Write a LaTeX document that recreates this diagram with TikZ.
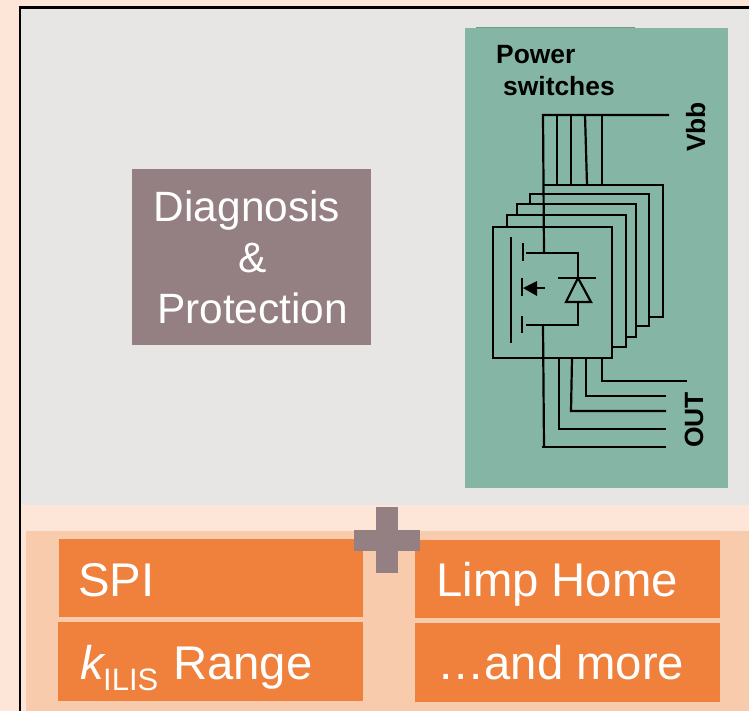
\documentclass[tikz,border=0pt]{standalone}
\usepackage{fontspec}
\setmainfont{Liberation Sans}
\definecolor{pagebg}{HTML}{FDE6D8}
\definecolor{panelbg}{HTML}{F8CBAD}
\definecolor{orangebox}{HTML}{EF813C}
\definecolor{greybg}{HTML}{E7E6E4}
\definecolor{tealbg}{HTML}{84B5A5}
\definecolor{mauve}{HTML}{948083}
\tikzset{
  wire/.style={draw=black,line width=2.2pt,line join=miter},
  bigtext/.style={text=white,inner sep=0pt,anchor=base west,font=\fontsize{47.3}{47}\selectfont},
  smallbold/.style={text=black,inner sep=0pt,anchor=base west,font=\bfseries\fontsize{26.4}{26}\selectfont},
}
\begin{document}
\begin{tikzpicture}[x=1pt,y=-1pt]
\useasboundingbox (0,0) rectangle (749,711);
\fill[pagebg] (0,0) rectangle (749,711);
\fill[greybg] (20,8) rectangle (749,505);
\fill[panelbg] (26,531) rectangle (749,711);
\draw[black,line width=2.4pt] (20,711) -- (20,7.5) -- (749,7.5);
% teal panel
\fill[tealbg] (465,28) rectangle (728,488);
\fill[tealbg!85!black] (476,27) rectangle (635,28);
% orange boxes
\fill[orangebox] (59,539) rectangle (363,617);
\fill[orangebox] (58,622) rectangle (363,701);
\fill[orangebox] (415,540) rectangle (720,618);
\fill[orangebox] (415,623) rectangle (720,702);
% plus
\fill[mauve] (376,507) rectangle (397.5,573);
\fill[mauve] (354,530) rectangle (420,551);
% diagnosis
\fill[mauve] (132,169) rectangle (371,345);
\node[text=white,inner sep=0pt,align=center,font=\fontsize{42.4}{51}\selectfont] (diag) at (252.5,257)
  {Diagnosis\hspace*{11pt}\\\&\\Protection};
% labels
\node[bigtext] (spi) at (78,596) {SPI};
\node[bigtext] (limp) at (436,596) {Limp Home};
\node[bigtext] (more) at (437,679) {…and more};
\node[bigtext] (kilis) at (80,679) {\textit{k}};
\node[text=white,inner sep=0pt,anchor=base west,font=\fontsize{31}{31}\selectfont] (sub) at (103,690) {ILIS};
\node[bigtext] (range) at (173,679) {Range};
\node[smallbold] (power) at (496,64) {Power};
\node[smallbold] (switches) at (503,96) {switches};
\node[smallbold,rotate=90] (vbb) at (705,152) {Vbb};
\node[smallbold,rotate=90] (out) at (703,448) {OUT};
% supply wires
\draw[wire] (669,115) -- (543,115) -- (544,253);
\draw[wire] (557,115) -- (557,185);
\draw[wire] (571,115) -- (571,185);
\draw[wire] (585,115) -- (587,185);
\draw[wire] (602,115) -- (602,185);
% stacked frames, rear to front
\draw[wire] (544,185) -- (663,185) -- (663,317) -- (649,317);
\draw[wire] (530,204) -- (530,194) -- (649,194) -- (649,326) -- (636,326);
\draw[wire] (517,215) -- (517,204) -- (636,204) -- (636,337) -- (626,337);
\draw[wire] (507,227) -- (507,215) -- (626,215) -- (626,347) -- (612,347);
\draw[wire] (493,227) rectangle (612,358);
% transistor
\draw[wire] (511,237) -- (511,343);
\draw[wire] (523,243) -- (523,261);
\draw[wire] (522,278) -- (522,296);
\draw[wire] (522,316) -- (522,333);
\draw[wire] (526,253) -- (578,253) -- (578,278);
\draw[wire] (558,278) -- (596,278);
\draw[wire] (578,278) -- (566,302) -- (591,302) -- cycle;
\draw[wire] (578,302) -- (578,325) -- (526,325);
\draw[wire] (525,288) -- (545,288);
\fill[black] (523,288) -- (537,281) -- (537,296) -- cycle;
% output wires
\draw[wire] (543,325) -- (544,447);
\draw[wire] (542,447) -- (666,447);
\draw[wire] (559,358) -- (559,429) -- (666,429);
\draw[wire] (572,358) -- (571,411) -- (666,411);
\draw[wire] (586,358) -- (586,396) -- (666,396);
\draw[wire] (602,358) -- (602,381) -- (687,381);
\end{tikzpicture}
\end{document}
